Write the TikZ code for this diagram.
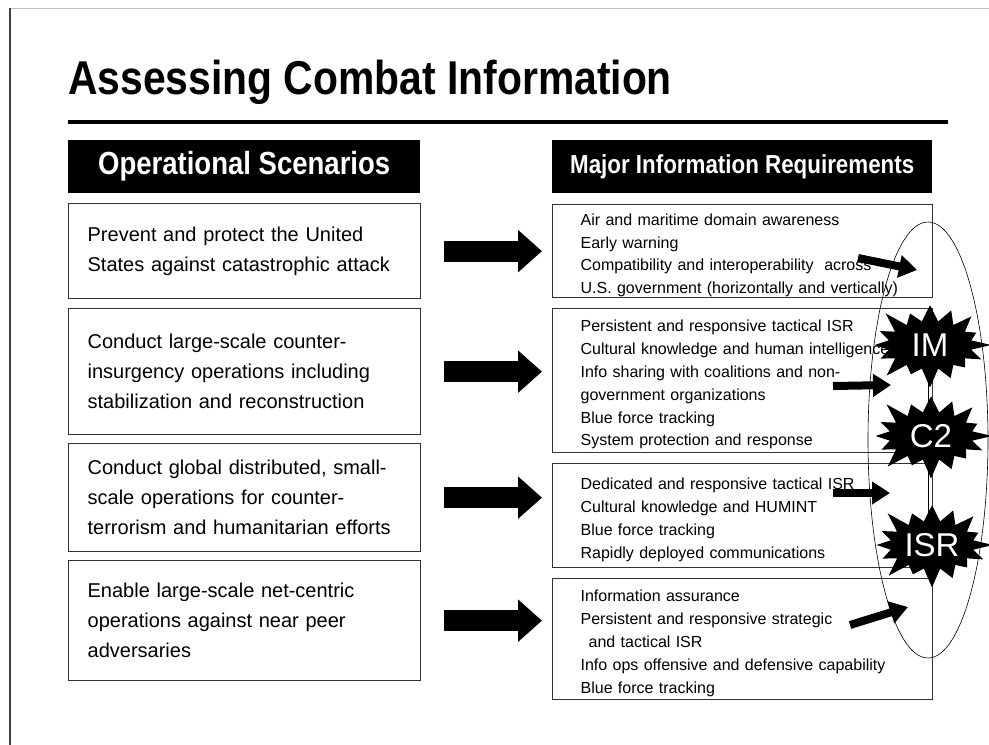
\documentclass[tikz,border=0pt]{standalone}
\usepackage{fontspec}
\setmainfont{Liberation Sans}
\newfontfamily\headfont[FakeStretch=0.86]{Liberation Sans}
\usetikzlibrary{arrows.meta,positioning,shapes.geometric,shapes.symbols,backgrounds}

\tikzset{
  header/.style={fill=black, text=white, anchor=north west, inner sep=0pt},
  scenario/.style={draw=black!80, line width=1.3pt, anchor=north west, minimum width=352pt,
    inner xsep=19pt, text width=314pt, align=left, font=\fontsize{20}{30}\selectfont},
  require/.style={draw=black!80, line width=1.3pt, anchor=north west, minimum width=380pt,
    inner xsep=28pt, inner ysep=0pt, text width=324pt, align=left, font=\fontsize{16}{22.8}\selectfont,
    execute at begin node={\rule{0pt}{20pt}}},
  bigarrow/.style={line width=21pt, -{Triangle[length=24pt,width=41pt]}},
  smallarrow/.style={line width=8pt, -{Triangle[length=18pt,width=22pt]}},
  burst/.style={starburst, fill=black, text=white, starburst points=16,
    starburst point height=22pt, minimum width=128pt, minimum height=92pt, inner sep=0pt,
    font=\fontsize{33}{33}\selectfont}
}

\begin{document}
\begin{tikzpicture}[x=1pt,y=-1pt]
    \useasboundingbox (0,0) rectangle (989,745);
    \draw[black!25, line width=1pt] (10,8) -- (989,8);
    \draw[black!75, line width=1.2pt] (10,8) -- (10,745);

    \node[anchor=base west, inner sep=0pt, font=\headfont\bfseries\fontsize{47.5}{47.5}\selectfont] (title) at (68,94) {Assessing Combat Information};
    \draw[line width=4pt] (68,122) -- (948,122);

    % column headers
    \node[header, minimum width=352pt, minimum height=53pt, font=\headfont\bfseries\fontsize{32}{32}\selectfont] (schead) at (68,140) {Operational Scenarios};
    \node[header, minimum width=380pt, minimum height=53pt, font=\headfont\bfseries\fontsize{26}{26}\selectfont] (rqhead) at (552,140) {Major Information Requirements};

    % scenarios
    \node[scenario, minimum height=95pt] (sc1) at (68,203) {Prevent and protect the United\\States against catastrophic attack};
    \node[scenario, minimum height=126pt] (sc2) at (68,308) {Conduct large-scale counter-\\insurgency operations including\\stabilization and reconstruction};
    \node[scenario, minimum height=108pt] (sc3) at (68,443) {Conduct global distributed, small-\\scale operations for counter-\\terrorism and humanitarian efforts};
    \node[scenario, minimum height=120pt] (sc4) at (68,560) {Enable large-scale net-centric\\operations against near peer\\adversaries};

    % requirements
    \node[require, minimum height=93pt] (rq1) at (552,204) {Air and maritime domain awareness\\Early warning\\Compatibility and interoperability\ \ across\\U.S. government (horizontally and vertically)};
    \node[require, minimum height=144pt] (rq2) at (552,308) {Persistent and responsive tactical ISR\\Cultural knowledge and human intelligence\\Info sharing with coalitions and non-\\government organizations\\Blue force tracking\\System protection and response};
    \node[require, minimum height=104pt] (rq3) at (552,463) {Dedicated and responsive tactical ISR\\Cultural knowledge and HUMINT\\Blue force tracking\\Rapidly deployed communications};
    \node[require, minimum height=121pt] (rq4) at (552,578) {Information assurance\\Persistent and responsive strategic\\\hspace*{8pt}and tactical ISR\\Info ops offensive and defensive capability\\Blue force tracking};

    \draw[bigarrow] ([xshift=23pt]sc1.east) -- ([xshift=-10pt]sc1.east -| rq1.west);
    \draw[bigarrow] ([xshift=23pt]sc2.east) -- ([xshift=-10pt]sc2.east -| rq2.west);
    \draw[bigarrow] ([xshift=23pt]sc3.east) -- ([xshift=-10pt]sc3.east -| rq3.west);
    \draw[bigarrow] ([xshift=23pt]sc4.east) -- ([xshift=-10pt]sc4.east -| rq4.west);

    % capability loop
    \node[draw, ellipse, line width=0.6pt, minimum width=120pt, minimum height=436pt, inner sep=0pt] (loop) at (928,440) {};
    \node[burst] (im) at (930,345) {IM};
    \node[burst] (c2) at (931,436) {C2};
    \node[burst] (isr) at (932,545) {ISR};
    \begin{pgfonlayer}{background}
      \draw[line width=0.8pt] (im.center -| loop.center) -- (isr.center -| loop.center);
    \end{pgfonlayer}

    \coordinate (a1) at (858,258);
    \coordinate (b1) at (917,270);
    \coordinate (a2) at (833,386);
    \coordinate (b2) at (891,385);
    \coordinate (a3) at (833,493);
    \coordinate (b3) at (890,493);
    \coordinate (a4) at (850,625);
    \coordinate (b4) at (908,607);
    \draw[smallarrow] (a1) -- (b1);
    \draw[smallarrow] (a2) -- (b2);
    \draw[smallarrow] (a3) -- (b3);
    \draw[smallarrow] (a4) -- (b4);
\end{tikzpicture}
\end{document}
